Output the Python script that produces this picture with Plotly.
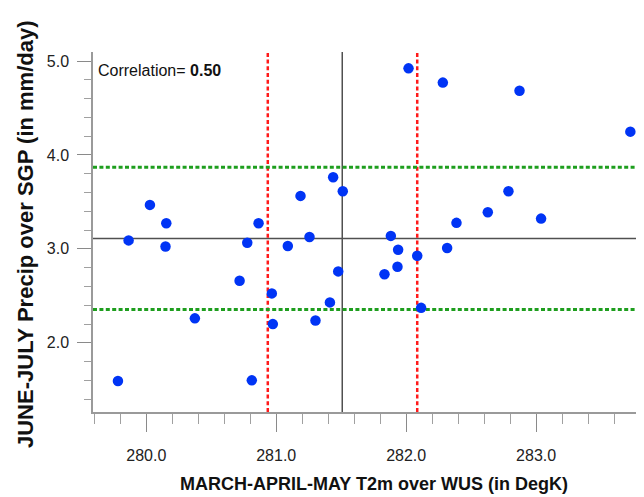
import plotly.graph_objects as go

# Data
t2m_mam = [279.782, 279.864, 280.028, 280.148, 280.154, 280.374, 280.718, 280.777,
           280.812, 280.864, 280.966, 280.974, 281.089, 281.187, 281.256, 281.302,
           281.413, 281.438, 281.477, 281.512, 281.833, 281.882, 281.933, 281.938,
           282.018, 282.085, 282.115, 282.282, 282.315, 282.387, 282.628, 282.787,
           282.872, 283.038, 283.725]
precip_jj = [1.593, 3.09, 3.468, 3.025, 3.273, 2.26, 2.66, 3.065,
             1.60, 3.273, 2.526, 2.199, 3.03, 3.564, 3.126, 2.238,
             2.43, 3.763, 2.76, 3.614, 2.73, 3.138, 2.81, 2.99,
             4.922, 2.926, 2.372, 4.77, 3.01, 3.277, 3.39, 3.614,
             4.684, 3.322, 4.248]

x_mean = 281.508
x_sd_lines = [280.935, 282.085]
y_mean = 3.11
y_sd_lines = [2.355, 3.87]

x_ticks = [280.0, 281.0, 282.0, 283.0]
x_tick_labels = ["280.0", "281.0", "282.0", "283.0"]
y_ticks = [2.0, 3.0, 4.0, 5.0]
y_tick_labels = ["2.0", "3.0", "4.0", "5.0"]
correlation = "0.50"

x_range = [279.59, 283.83]
y_range = [1.263, 5.096]

# page body has an 8px default margin; size the figure so the plot lands at target pixels
OFF = 8
W, H = 644 - OFF, 497 - OFF
L, T = 93 - OFF, 52 - OFF
R = 0
B = H - (412 - OFF)
pw, ph = W - L - R, H - T - B

def px_x(p):
    return (p - OFF - L) / pw

def px_y(p):
    return (H - B - (p - OFF)) / ph

fig = go.Figure()
fig.add_trace(go.Scatter(
    x=t2m_mam, y=precip_jj, mode="markers",
    marker=dict(size=10.5, color="#0034f5", line=dict(width=0)),
    showlegend=False, hoverinfo="x+y",
))

shapes = []
shapes.append(dict(type="line", xref="x", yref="paper", x0=x_mean, x1=x_mean, y0=0, y1=1,
                   line=dict(color="#505050", width=1.5), layer="below"))
shapes.append(dict(type="line", xref="paper", yref="y", x0=0, x1=1, y0=y_mean, y1=y_mean,
                   line=dict(color="#505050", width=1.5), layer="below"))
for xv in x_sd_lines:
    shapes.append(dict(type="line", xref="x", yref="paper", x0=xv, x1=xv, y0=0, y1=1,
                       line=dict(color="#ff1a1a", width=2.5, dash="4px,2.7px"), layer="below"))
for yv in y_sd_lines:
    shapes.append(dict(type="line", xref="paper", yref="y", x0=0, x1=1, y0=yv, y1=yv,
                       line=dict(color="#1e9e1e", width=3, dash="4px,2.4px"), layer="below"))

font_main = "Liberation Sans, Arial, Helvetica, sans-serif"

annotations = [
    dict(text="MARCH-APRIL-MAY T2m over WUS (in DegK)", xref="paper", yref="paper",
         x=px_x(374), y=px_y(484), xanchor="center", yanchor="middle", showarrow=False,
         font=dict(family=font_main, size=18, color="#111111", weight="bold")),
    dict(text="JUNE-JULY Precip over SGP (in mm/day)", xref="paper", yref="paper",
         x=px_x(25), y=px_y(234), xanchor="center", yanchor="middle", showarrow=False,
         textangle=-90,
         font=dict(family=font_main, size=22, color="#111111", weight="bold")),
    dict(text="Correlation= <b>" + correlation + "</b>", xref="paper", yref="paper",
         x=px_x(96), y=px_y(70), xanchor="left", yanchor="middle", showarrow=False,
         font=dict(family=font_main, size=16, color="#111111")),
]

fig.update_layout(
    width=W, height=H,
    margin=dict(l=L, r=R, t=T, b=B, pad=0),
    paper_bgcolor="white", plot_bgcolor="white",
    shapes=shapes, annotations=annotations,
    font=dict(family=font_main, size=16, color="#222222"),
    xaxis=dict(
        range=x_range, tickvals=x_ticks, ticktext=x_tick_labels,
        showgrid=False, zeroline=False, showline=True, linecolor="#9a9a9a", linewidth=1.5,
        ticks="outside", ticklen=18, tickwidth=1.3, tickcolor="#8a8a8a",
        ticklabelstandoff=10, mirror=False,
        minor=dict(dtick=0.2, tick0=280.0, ticks="outside", ticklen=10, tickwidth=1.1,
                   tickcolor="#a0a0a0", showgrid=False),
        tickfont=dict(size=16, color="#222222"),
    ),
    yaxis=dict(
        range=y_range, tickvals=y_ticks, ticktext=y_tick_labels,
        showgrid=False, zeroline=False, showline=True, linecolor="#9a9a9a", linewidth=1.5,
        ticks="outside", ticklen=14, tickwidth=1.3, tickcolor="#8a8a8a",
        ticklabelstandoff=5, mirror=False,
        minor=dict(dtick=0.2, tick0=2.0, ticks="outside", ticklen=7, tickwidth=1.1,
                   tickcolor="#a0a0a0", showgrid=False),
        tickfont=dict(size=16, color="#222222"),
    ),
)

fig.write_html("out.html")
